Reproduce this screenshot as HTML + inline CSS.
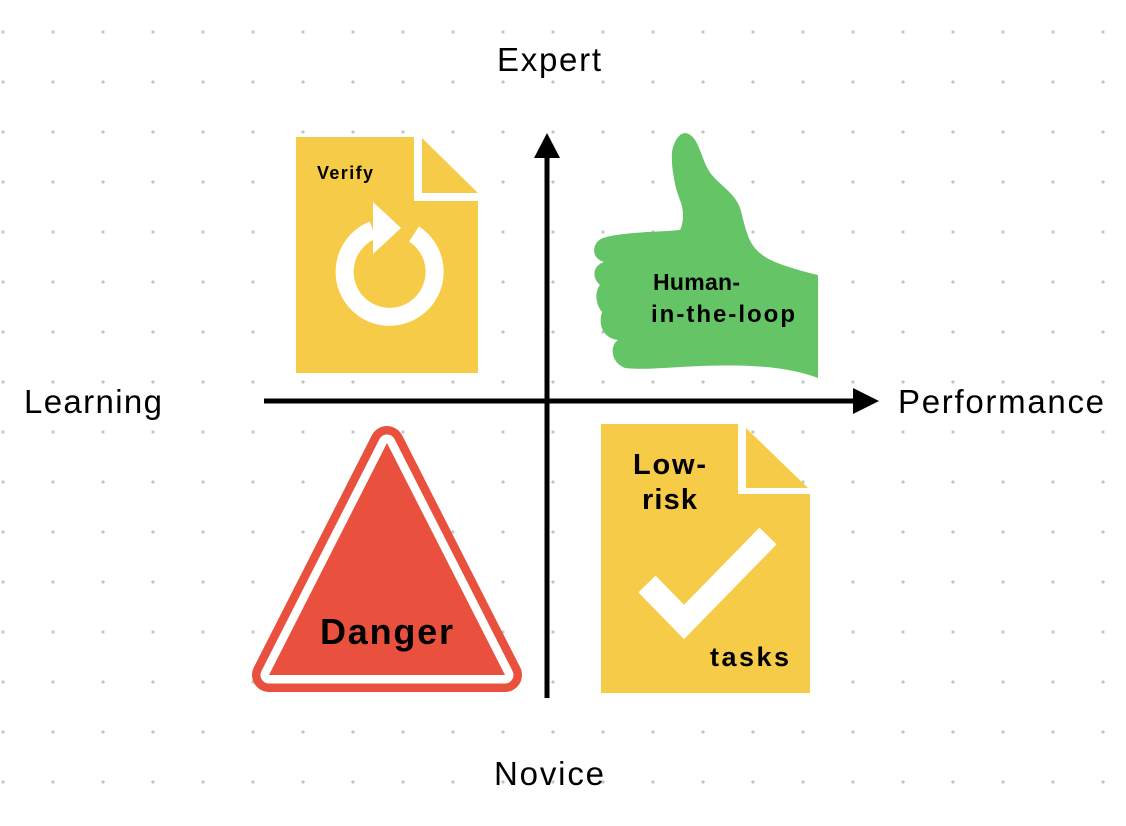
<!DOCTYPE html>
<html><head><meta charset="utf-8"><style>
html,body{margin:0;padding:0;background:#fff;}
svg{display:block;}
text{font-family:"Liberation Sans",sans-serif;}
</style></head><body>
<svg width="1126" height="826" viewBox="0 0 1126 826" xmlns="http://www.w3.org/2000/svg">
<defs><pattern id="d" x="0" y="0" width="50" height="50" patternUnits="userSpaceOnUse" patternTransform="translate(3,32)"><circle cx="0" cy="0" r="1.6" fill="#c4c4c4"/><circle cx="50" cy="0" r="1.6" fill="#c4c4c4"/><circle cx="0" cy="50" r="1.6" fill="#c4c4c4"/><circle cx="50" cy="50" r="1.6" fill="#c4c4c4"/></pattern></defs>
<rect width="1126" height="826" fill="url(#d)"/>

<!-- Verify doc -->
<polygon points="296,137 414,137 414,201 478,201 478,373 296,373" fill="#f6cb47"/>
<polygon points="422,138 478,193 422,193" fill="#f6cb47"/>
<path d="M373,230 A45,45 0 1 0 414,234" fill="none" stroke="#fff" stroke-width="18"/>
<polygon points="373,202 401,228 373,254" fill="#fff"/>
<text x="317" y="179" font-size="18" font-weight="bold" textLength="56" lengthAdjust="spacing">Verify</text>

<!-- Thumb -->
<path d="M685,133 C700,135 700,160 712,175 C725,190 738,195 742,215 C748,240 752,252 775,262 C795,270 818,275 818,275 L818,378 C790,368 760,364 700,366 C660,368 640,370 625,368 C610,362 610,345 618,340 C603,338 598,325 602,312 C596,305 594,292 600,285 C592,278 592,266 604,262 C590,258 592,242 603,238 C620,232 660,232 680,230 C684,222 684,210 680,200 C674,185 671,165 672,152 C674,140 680,133 685,133 Z" fill="#64c466"/>
<text x="653" y="290" font-size="23" font-weight="bold" textLength="87" lengthAdjust="spacing">Human-</text>
<text x="651" y="322" font-size="24" font-weight="bold" textLength="144" lengthAdjust="spacing">in-the-loop</text>

<!-- Danger -->
<polygon points="387,443 269,675 505,675" fill="#e9503e" stroke="#e9503e" stroke-width="34" stroke-linejoin="round"/>
<polygon points="387,443 269,675 505,675" fill="#e9503e" stroke="#fff" stroke-width="17" stroke-linejoin="round"/>
<polygon points="387,443 269,675 505,675" fill="#e9503e"/>
<text x="320" y="644" font-size="36" font-weight="bold" textLength="133" lengthAdjust="spacing">Danger</text>

<!-- Low-risk doc -->
<polygon points="601,424 738,424 738,494 810,494 810,693 601,693" fill="#f6cb47"/>
<polygon points="746,428 808,488 746,488" fill="#f6cb47"/>
<polyline points="647,584 684,622 768,536" fill="none" stroke="#fff" stroke-width="24"/>
<text x="633" y="474" font-size="29" font-weight="bold" textLength="73" lengthAdjust="spacing">Low-</text>
<text x="642" y="509" font-size="29" font-weight="bold" textLength="55" lengthAdjust="spacing">risk</text>
<text x="710" y="666" font-size="27" font-weight="bold" textLength="79" lengthAdjust="spacing">tasks</text>

<!-- Axes -->
<line x1="547" y1="155" x2="547" y2="698" stroke="#000" stroke-width="5"/>
<polygon points="547,133 534,158 560,158" fill="#000"/>
<line x1="264" y1="401" x2="856" y2="401" stroke="#000" stroke-width="5"/>
<polygon points="879,401 853,388 853,414" fill="#000"/>

<text x="497" y="71" font-size="33" textLength="104" lengthAdjust="spacing">Expert</text>
<text x="494" y="785" font-size="33" textLength="110" lengthAdjust="spacing">Novice</text>
<text x="24" y="413" font-size="33" textLength="138" lengthAdjust="spacing">Learning</text>
<text x="898" y="413" font-size="33" textLength="206" lengthAdjust="spacing">Performance</text>
</svg>
</body></html>
